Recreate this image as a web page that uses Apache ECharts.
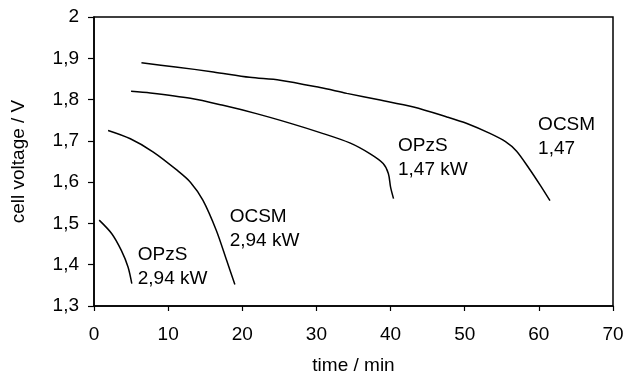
<!DOCTYPE html>
<html>
<head>
<meta charset="utf-8">
<script src="https://cdn.jsdelivr.net/npm/echarts@6/dist/echarts.min.js"></script>
<style>
  html, body { margin: 0; padding: 0; background: #fff; }
  #chart { width: 626px; height: 373px; }
</style>
</head>
<body>
<div id="chart"></div>
<script>
// values: [time in min, cell voltage in V]
var ocsm147 = [[6.4, 1.889], [11.0, 1.879], [16.1, 1.867], [21.0, 1.854], [25.1, 1.847], [30.5, 1.829], [34.1, 1.815], [38.6, 1.799], [43.1, 1.782], [47.6, 1.758], [50.3, 1.742], [53.4, 1.718], [55.5, 1.698], [57.0, 1.675], [58.8, 1.630], [60.2, 1.592], [61.5, 1.555]];
var opzs147 = [[5.0, 1.820], [7.6, 1.816], [13.0, 1.803], [17.4, 1.786], [21.9, 1.766], [26.4, 1.743], [30.5, 1.720], [34.5, 1.695], [37.2, 1.669], [39.0, 1.645], [39.7, 1.621], [40.0, 1.588], [40.4, 1.560]];
var ocsm294 = [[1.9, 1.725], [4.9, 1.705], [8.0, 1.673], [11.2, 1.629], [13.0, 1.600], [14.7, 1.556], [16.5, 1.483], [17.9, 1.410], [19.0, 1.352]];
var opzs294 = [[0.7, 1.508], [2.4, 1.475], [3.7, 1.434], [4.6, 1.394], [5.1, 1.354]];

var xTicks = ['0', '10', '20', '30', '40', '50', '60', '70'];
var yTicks = ['1,3', '1,4', '1,5', '1,6', '1,7', '1,8', '1,9', '2'];

var font = 'Liberation Sans, Arial, sans-serif';

var chart = echarts.init(document.getElementById('chart'));

function curve(name, data, labelText, labelAt) {
    return {
        name: name,
        type: 'line',
        data: data,
        smooth: 0.3,
        symbol: 'none',
        lineStyle: { color: '#000', width: 1.5 },
        markPoint: {
            symbol: 'circle',
            symbolSize: 0,
            silent: true,
            data: [{
                coord: labelAt,
                label: {
                    show: true,
                    formatter: labelText,
                    position: 'right',
                    distance: 0,
                    color: '#000',
                    fontSize: 19,
                    fontFamily: font,
                    lineHeight: 24,
                    align: 'left',
                    verticalAlign: 'middle'
                }
            }]
        }
    };
}

var option = {
    animation: false,
    backgroundColor: '#fff',
    grid: {
        left: 94,
        right: 13,
        top: 17,
        bottom: 67,
        show: true,
        borderColor: '#000',
        borderWidth: 1.5,
        containLabel: false,
        outerBoundsMode: 'none'
    },
    xAxis: {
        type: 'value',
        min: 0,
        max: 70,
        interval: 10,
        name: 'time / min',
        nameLocation: 'middle',
        nameGap: 50,
        nameTextStyle: { color: '#000', fontSize: 19, fontFamily: font },
        axisLine: { lineStyle: { color: '#000', width: 1.5 } },
        axisTick: { inside: false, length: 5, lineStyle: { color: '#000', width: 1.2 } },
        axisLabel: {
            color: '#000',
            fontSize: 19,
            fontFamily: font,
            margin: 19,
            formatter: function (v) { return xTicks[Math.round(v / 10)]; }
        },
        splitLine: { show: false }
    },
    yAxis: {
        type: 'value',
        min: 1.3,
        max: 2,
        interval: 0.1,
        name: 'cell voltage / V',
        nameLocation: 'middle',
        nameGap: 66,
        nameRotate: 90,
        nameTextStyle: { color: '#000', fontSize: 19, fontFamily: font },
        axisLine: { show: true, lineStyle: { color: '#000', width: 1.5 } },
        axisTick: { show: true, inside: false, length: 6, lineStyle: { color: '#000', width: 1.2 } },
        axisLabel: {
            color: '#000',
            fontSize: 19,
            fontFamily: font,
            margin: 15,
            formatter: function (v) { return yTicks[Math.round((v - 1.3) * 10)]; }
        },
        splitLine: { show: false }
    },
    series: [
        curve('OCSM 1,47', ocsm147, 'OCSM\n1,47', [59.9, 1.711]),
        curve('OPzS 1,47 kW', opzs147, 'OPzS\n1,47 kW', [41.0, 1.660]),
        curve('OCSM 2,94 kW', ocsm294, 'OCSM\n2,94 kW', [18.3, 1.486]),
        curve('OPzS 2,94 kW', opzs294, 'OPzS\n2,94 kW', [5.9, 1.396])
    ]
};

chart.setOption(option);
window.addEventListener('resize', function () {
    chart.resize();
});
</script>
</body>
</html>
